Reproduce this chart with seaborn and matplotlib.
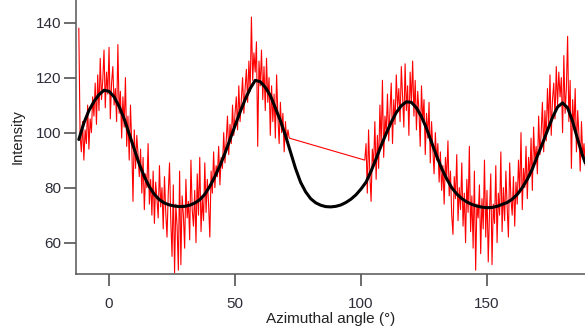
import numpy as np
import pandas as pd
import matplotlib
matplotlib.use("Agg")
import matplotlib.pyplot as plt
import seaborn as sns

# measured intensity, 0.5 deg steps, two scanned ranges (gap in between)
scan1_start, scan2_start, step = -12.0, 101.5, 0.5
scan1_y = [138, 99, 93, 104, 90, 101, 96, 110, 94, 105,
           100, 113, 106, 118, 103, 121, 108, 127, 112, 119,
           130, 109, 122, 114, 131, 105, 118, 124, 110, 116,
           104, 132, 107, 115, 98, 113, 102, 120, 95, 106,
           90, 110, 96, 75, 101, 87, 99, 92, 84, 94,
           78, 91, 72, 85, 80, 96, 74, 83, 70, 86,
           67, 82, 76, 69, 88, 73, 80, 65, 84, 71,
           62, 78, 89, 68, 55, 81, 49, 74, 66, 50,
           86, 52, 77, 70, 58, 83, 69, 75, 61, 90,
           72, 66, 79, 60, 85, 70, 91, 64, 76, 68,
           89, 71, 83, 74, 62, 86, 78, 93, 80, 88,
           84, 95, 81, 91, 87, 100, 89, 97, 106, 92,
           103, 96, 110, 99, 107, 113, 101, 117, 104, 112,
           120, 107, 116, 123, 111, 126, 115, 142, 119, 129,
           122, 133, 95, 126, 117, 130, 112, 124, 108, 127,
           111, 120, 99, 117, 104, 114, 98, 121, 106, 96,
           111, 100, 107, 93, 104, 97, 101, 98]
scan2_y = [90, 96, 78, 101, 85, 75, 94, 88, 104, 83,
           99, 87, 110, 95, 119, 91, 106, 100, 114, 97,
           108, 118, 96, 112, 103, 121, 109, 116, 104, 124,
           113, 102, 125, 108, 117, 99, 122, 111, 126, 106,
           119, 101, 115, 108, 95, 117, 104, 112, 92, 107,
           98, 111, 89, 104, 94, 85, 100, 90, 96, 82,
           93, 79, 88, 74, 91, 83, 97, 77, 86, 70,
           63, 84, 76, 92, 68, 80, 72, 89, 66, 78,
           60, 83, 71, 95, 64, 77, 58, 86, 50, 74,
           69, 81, 56, 76, 65, 90, 62, 79, 53, 71,
           85, 52, 74, 67, 88, 60, 78, 70, 93, 64,
           80, 68, 86, 73, 62, 89, 76, 70, 84, 66,
           82, 74, 90, 78, 100, 72, 87, 80, 95, 76,
           91, 84, 98, 79, 102, 89, 95, 85, 106, 92,
           100, 111, 93, 108, 97, 116, 103, 121, 99, 112,
           118, 105, 124, 110, 122, 113, 120, 100, 128, 107,
           116, 135, 104, 119, 87, 112, 101, 116, 93, 108,
           99, 86, 104, 91, 96, 88]

# fitted curve, read every 2 deg
fit_x = list(range(-12, 189, 2)) + [189]
fit_y = [97.5, 103.5, 108, 111.3, 113.8, 115.4, 115, 113, 109.5, 105,
         99.5, 94, 88.5, 84, 80.3, 77.5, 75.6, 74.4, 73.7, 73.3,
         73.1, 73.2, 73.6, 74.4, 75.6, 77.6, 80.5, 84, 88, 92.5,
         97.5, 102.5, 107.5, 112, 116, 119, 118.5, 116.5, 113.5, 109,
         104.3, 99, 93, 87, 82, 78.5, 76, 74.5, 73.6, 73.1,
         73, 73.2, 73.7, 74.6, 75.8, 77.4, 79.5, 82, 86, 90.5,
         95.3, 99.7, 103.8, 107.3, 109.8, 111.2, 111, 109, 105.8, 101.5,
         96.5, 91.5, 87, 83.2, 80, 77.7, 76, 74.8, 73.9, 73.3,
         72.9, 72.7, 72.8, 73.2, 73.9, 74.6, 75.8, 77.5, 80, 83,
         86.8, 91.5, 96, 100.8, 105.5, 109.3, 110.8, 109, 104, 97.5,
         91.5, 89]

x1 = scan1_start + step * np.arange(len(scan1_y))
x2 = scan2_start + step * np.arange(len(scan2_y))
data = pd.DataFrame({"angle": np.concatenate([x1, x2]),
                     "intensity": scan1_y + scan2_y})
fit = pd.DataFrame({"angle": fit_x, "intensity": fit_y})

sns.set_style("white")
plt.rcParams["font.family"] = ["Liberation Sans", "DejaVu Sans"]

fig = plt.figure(figsize=(5.85, 3.27), dpi=100)
ax = fig.add_axes([0.130, 0.162, 0.870, 0.838])

sns.lineplot(data=data, x="angle", y="intensity", color="#ff0000",
             linewidth=0.8, estimator=None, sort=False, ax=ax)
sns.lineplot(data=fit, x="angle", y="intensity", color="black",
             linewidth=2.2, estimator=None, sort=False, ax=ax)

ax.set_xlim(-13.1, 188.9)
ax.set_ylim(48.6, 148.2)
ax.set_xticks([0, 50, 100, 150])
ax.set_yticks([60, 80, 100, 120, 140])

for side in ["top", "right"]:
    ax.spines[side].set_visible(False)
for side in ["left", "bottom"]:
    ax.spines[side].set_color("#555555")
    ax.spines[side].set_linewidth(1.1)

ax.tick_params(axis="both", direction="out", length=8.5, width=1.1,
               color="#444444", labelsize=11, labelcolor="#2e2e3a",
               bottom=True, left=True)
ax.tick_params(axis="x", pad=8)
ax.tick_params(axis="y", pad=2)

ax.set_xlabel("Azimuthal angle (°)", fontsize=11, color="#222222", labelpad=1)
ax.set_ylabel("Intensity", fontsize=10.5, color="#222222", labelpad=8)

fig.savefig("out.png", dpi=100)
